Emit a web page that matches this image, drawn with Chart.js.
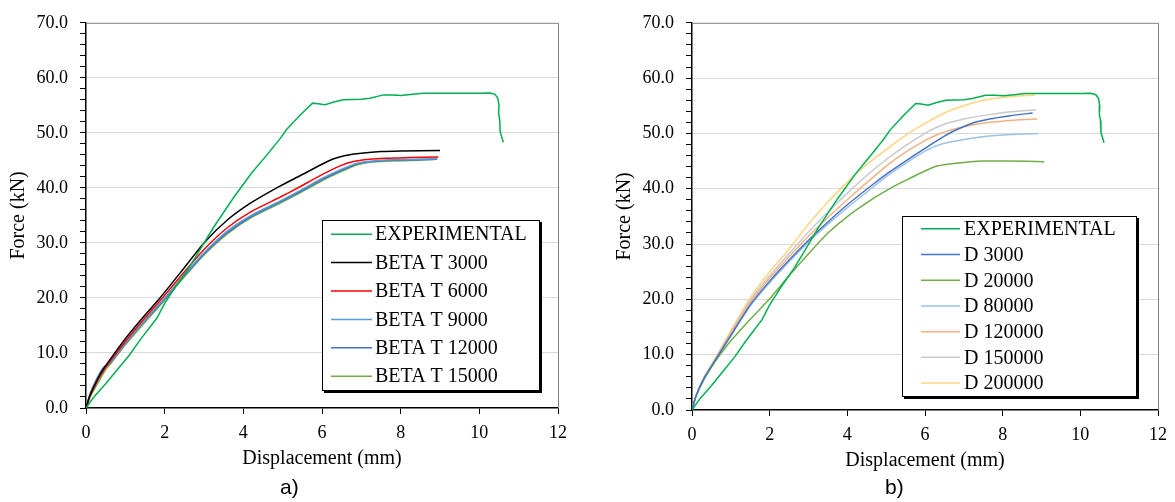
<!DOCTYPE html>
<html>
<head>
<meta charset="utf-8">
<script src="https://cdn.jsdelivr.net/npm/chart.js@4.4.1/dist/chart.umd.min.js"></script>
<style>
body { margin:0; background:#fff; width:1175px; height:502px; position:relative; overflow:hidden; }
canvas { position:absolute; top:0; }
#chartA { left:0; }
#chartB { left:606px; }
.tag { position:absolute; top:475px; font-family:'Liberation Sans', Arial, sans-serif; font-size:21px; color:#000; }
</style>
</head>
<body>
<canvas id="chartA" width="580" height="502"></canvas>
<canvas id="chartB" width="569" height="502"></canvas>
<div class="tag" style="left:280px">a)</div>
<div class="tag" style="left:885px">b)</div>
<script>
// [displacement mm, force kN]
var experimental = [[0,0],[0.2,2.0],[0.5,4.4],[0.8,7.0],[1.1,9.6],[1.4,12.6],[1.8,16.3],[2.0,19.0],[2.3,22.3],[2.6,25.3],[2.85,28.2],[3.24,32.8],[3.75,38.2],[4.2,42.6],[4.6,46.0],[4.93,48.9],[5.1,50.6],[5.44,53.2],[5.76,55.4],[5.9,55.3],[6.08,55.1],[6.3,55.6],[6.54,56.0],[7.0,56.1],[7.22,56.3],[7.56,56.9],[7.8,56.9],[8.02,56.8],[8.3,57.0],[8.58,57.2],[9.3,57.2],[10.02,57.2],[10.27,57.25],[10.4,57.0],[10.47,56.3],[10.5,55.0],[10.49,53.5],[10.52,52.3],[10.53,50.2],[10.61,48.3]];

var betaT3000 = [[0,0],[0.1,2.3],[0.25,4.6],[0.4,6.6],[0.6,8.7],[1.0,12.6],[1.5,16.9],[1.88,20.0],[2.4,24.6],[3.0,30.0],[3.6,34.2],[4.2,37.3],[4.85,40.0],[5.44,42.2],[6.0,44.3],[6.3,45.3],[6.6,45.9],[7.0,46.3],[7.5,46.6],[8.0,46.7],[9.0,46.8]];
var betaT6000 = [[0,0],[0.1,2.1],[0.25,4.4],[0.4,6.3],[0.6,8.4],[1.0,12.1],[1.5,16.4],[1.94,20.0],[2.4,23.9],[3.0,28.8],[3.6,32.8],[4.2,35.7],[4.93,38.3],[5.44,40.2],[6.0,42.4],[6.46,44.0],[6.8,44.8],[7.2,45.2],[7.6,45.4],[8.2,45.5],[8.96,45.6]];
var betaT9000 = [[0,0],[0.1,2.4],[0.25,4.8],[0.45,7.2],[0.6,8.2],[1.0,11.8],[1.5,16.0],[2.0,20.0],[2.4,23.4],[3.0,28.2],[3.6,32.2],[4.2,35.0],[4.93,37.6],[5.44,39.5],[6.0,41.7],[6.5,43.4],[6.9,44.5],[7.3,44.9],[7.8,45.1],[8.4,45.2],[8.93,45.3]];
var betaT12000 = [[0,0],[0.1,2.5],[0.25,5.0],[0.45,7.4],[0.6,8.1],[1.0,11.7],[1.5,15.9],[2.0,19.8],[2.4,23.2],[3.0,28.0],[3.6,31.9],[4.2,34.8],[4.93,37.4],[5.44,39.3],[6.0,41.5],[6.5,43.2],[6.9,44.4],[7.3,44.8],[7.8,45.0],[8.4,45.1],[8.93,45.2]];
var betaT15000 = [[0,0],[0.1,1.9],[0.3,4.5],[0.5,7.0],[0.62,8.0],[1.0,11.5],[1.5,15.6],[2.0,19.6],[2.4,23.0],[3.0,27.8],[3.6,31.7],[4.2,34.6],[4.93,37.2],[5.44,39.1],[6.0,41.3],[6.5,43.0],[6.9,44.2],[7.3,44.7],[7.8,44.9],[8.4,45.0],[8.92,45.2]];

var d3000 = [[0,0],[0.1,2.5],[0.3,5.6],[0.6,9.0],[1.0,13.5],[1.5,19.0],[2.0,23.3],[2.5,27.1],[3.0,30.7],[3.5,34.0],[4.0,37.1],[4.68,40.9],[5.06,42.9],[5.5,45.0],[6.0,47.3],[6.5,49.5],[6.73,50.4],[7.2,51.8],[7.66,52.6],[8.2,53.2],[8.77,53.7]];
var d20000 = [[0,0],[0.1,2.4],[0.3,5.4],[0.6,8.8],[0.8,10.7],[1.0,12.5],[1.5,16.4],[2.0,20.1],[2.5,24.3],[3.02,28.4],[3.5,32.0],[4.04,35.2],[4.68,38.3],[5.06,39.9],[5.5,41.5],[6.0,43.2],[6.31,44.1],[6.8,44.6],[7.49,45.0],[8.2,45.0],[9.07,44.9]];
var d80000 = [[0,0],[0.1,2.5],[0.3,5.6],[0.6,9.0],[1.0,13.4],[1.5,18.8],[2.0,23.0],[2.5,26.8],[3.0,30.4],[3.5,33.6],[4.0,36.6],[4.5,39.4],[5.06,42.5],[5.5,44.6],[6.0,46.8],[6.39,48.0],[7.0,48.9],[7.49,49.4],[8.2,49.8],[8.92,50.0]];
var d120000 = [[0,0],[0.1,2.5],[0.3,5.7],[0.6,9.1],[1.0,13.8],[1.5,19.4],[2.0,23.8],[2.5,27.7],[3.0,31.4],[3.5,34.8],[4.0,38.0],[4.5,41.1],[5.06,44.4],[5.5,46.6],[6.0,48.7],[6.39,50.0],[7.0,51.2],[7.66,52.0],[8.3,52.4],[8.89,52.6]];
var d150000 = [[0,0],[0.1,2.5],[0.3,5.7],[0.6,9.2],[1.0,14.0],[1.5,19.8],[2.0,24.3],[2.5,28.3],[3.0,32.2],[3.5,35.8],[4.0,39.2],[4.5,42.4],[5.06,45.6],[5.5,47.8],[6.0,50.0],[6.39,51.4],[7.0,52.6],[7.66,53.4],[8.2,53.9],[8.86,54.3]];
var d200000 = [[0,0],[0.1,2.5],[0.3,5.8],[0.6,9.4],[1.0,14.3],[1.48,20.1],[2.0,25.0],[2.42,28.4],[3.0,33.6],[3.5,37.6],[4.0,41.2],[4.5,44.4],[5.06,47.4],[5.53,49.8],[6.0,51.8],[6.47,53.6],[7.0,55.0],[7.5,56.0],[8.0,56.5],[8.5,56.8],[8.83,56.95]];

var namesA = ['EXPERIMENTAL', 'BETA T 3000', 'BETA T 6000', 'BETA T 9000', 'BETA T 12000', 'BETA T 15000'];
var seriesA = [experimental, betaT3000, betaT6000, betaT9000, betaT12000, betaT15000];
var colorsA = ['#00b050', '#000000', '#ff0000', '#5b9bd5', '#4472c4', '#70ad47'];

var namesB = ['EXPERIMENTAL', 'D 3000', 'D 20000', 'D 80000', 'D 120000', 'D 150000', 'D 200000'];
var seriesB = [experimental, d3000, d20000, d80000, d120000, d150000, d200000];
var colorsB = ['#00b050', '#4472c4', '#70ad47', '#9dc3e6', '#f4b183', '#c9c9c9', '#ffd480'];

var serif = "'Liberation Serif', 'Times New Roman', serif";

function makeDatasets(names, series, colors) {
    let out = [];
    for (let i = 0; i < names.length; i++) {
        out.push({
            label: names[i],
            data: series[i].map(p => ({x: p[0], y: p[1]})),
            borderColor: colors[i],
            backgroundColor: colors[i],
            borderWidth: 1.5,
            pointRadius: 0,
            fill: false,
            tension: i == 0 ? 0 : 0.2
        });
    }
    return out;
}

// gray frame on the top and right of the plot area
var plotFrame = {
    id: 'plotFrame',
    beforeDatasetsDraw(chart) {
        const a = chart.chartArea, ctx = chart.ctx;
        ctx.save();
        ctx.strokeStyle = '#808080';
        ctx.lineWidth = 1;
        ctx.beginPath();
        ctx.moveTo(a.left, a.top + 0.5);
        ctx.lineTo(a.right + 0.5, a.top + 0.5);
        ctx.lineTo(a.right + 0.5, a.bottom);
        ctx.stroke();
        ctx.restore();
    }
};

// boxed legend inside the lower right of the plot area
var boxLegend = {
    id: 'boxLegend',
    afterDraw(chart, args, opts) {
        const ctx = chart.ctx, a = chart.chartArea;
        const sets = chart.data.datasets;
        ctx.save();
        ctx.font = opts.fontSize + 'px ' + serif;
        let textW = 0;
        sets.forEach(d => { textW = Math.max(textW, ctx.measureText(d.label).width); });
        const w = Math.round(opts.padLeft + opts.sample + opts.gap + textW + opts.padRight);
        const h = Math.round(sets.length * opts.rowHeight);
        const x = Math.round(a.right - opts.right - w);
        const y = Math.round(a.bottom - opts.bottom - h);
        ctx.fillStyle = '#000';
        ctx.fillRect(x + 2, y + 2, w + 1, h + 1);
        ctx.fillStyle = '#fff';
        ctx.fillRect(x, y, w, h);
        ctx.strokeStyle = '#000';
        ctx.lineWidth = 1;
        ctx.strokeRect(x + 0.5, y + 0.5, w, h);
        ctx.textBaseline = 'middle';
        sets.forEach((d, i) => {
            const cy = y + opts.rowHeight * (i + 0.5);
            ctx.strokeStyle = d.borderColor;
            ctx.lineWidth = 1.5;
            ctx.beginPath();
            ctx.moveTo(x + opts.padLeft, cy);
            ctx.lineTo(x + opts.padLeft + opts.sample, cy);
            ctx.stroke();
            ctx.fillStyle = '#000';
            ctx.fillText(d.label, x + opts.padLeft + opts.sample + opts.gap, cy + 1);
        });
        ctx.restore();
    }
};

function makeScales() {
    return {
        x: {
            type: 'linear', min: 0, max: 12,
            ticks: { stepSize: 2, color: '#000', font: { family: serif, size: 18 }, padding: 8, maxRotation: 0 },
            grid: { drawOnChartArea: false, drawTicks: true, tickLength: 6, tickColor: '#000' },
            border: { color: '#000', width: 1.5 },
            title: { display: true, text: 'Displacement (mm)', color: '#000', font: { family: serif, size: 20 }, padding: { top: 0, bottom: 0 } },
            afterFit: s => { s.height = 63; }
        },
        y: {
            type: 'linear', min: 0, max: 70,
            ticks: {
                stepSize: 2, maxTicksLimit: 100, autoSkip: false, color: '#000',
                font: { family: serif, size: 18 }, padding: 12,
                callback: v => (Math.abs(v % 10) < 1e-6 ? v.toFixed(1) : '')
            },
            grid: {
                color: c => {
                    const v = c.tick ? c.tick.value : 0;
                    return (Math.abs(v % 10) < 1e-6 && v > 0 && v < 70) ? '#d9d9d9' : 'rgba(0,0,0,0)';
                },
                lineWidth: 1, tickLength: 6, tickColor: '#000'
            },
            border: { color: '#000', width: 1.5 },
            title: { display: true, text: 'Force (kN)', color: '#000', font: { family: serif, size: 20 }, padding: { top: 7, bottom: 0 } },
            afterFit: s => { s.width = 86; }
        }
    };
}

function drawChart(id, names, series, colors, pad, legendOpts) {
    var ctx = document.getElementById(id).getContext('2d');
    new Chart(ctx, {
        type: 'line',
        data: { datasets: makeDatasets(names, series, colors) },
        options: {
            responsive: false,
            animation: false,
            devicePixelRatio: 1,
            events: [],
            layout: { padding: pad },
            scales: makeScales(),
            plugins: {
                legend: { display: false },
                tooltip: { enabled: false },
                boxLegend: legendOpts
            }
        },
        plugins: [plotFrame, boxLegend]
    });
}

drawChart('chartA', namesA, seriesA, colorsA,
    { left: 0, top: 16, right: 22, bottom: 31 },
    { fontSize: 20, rowHeight: 28.4, padLeft: 9, sample: 41, gap: 3, padRight: 12, right: 19, bottom: 18 });

drawChart('chartB', namesB, seriesB, colorsB,
    { left: 0, top: 16, right: 14, bottom: 29 },
    { fontSize: 20, rowHeight: 25.7, padLeft: 19, sample: 39, gap: 4, padRight: 20, right: 22, bottom: 14 });
</script>
</body>
</html>
